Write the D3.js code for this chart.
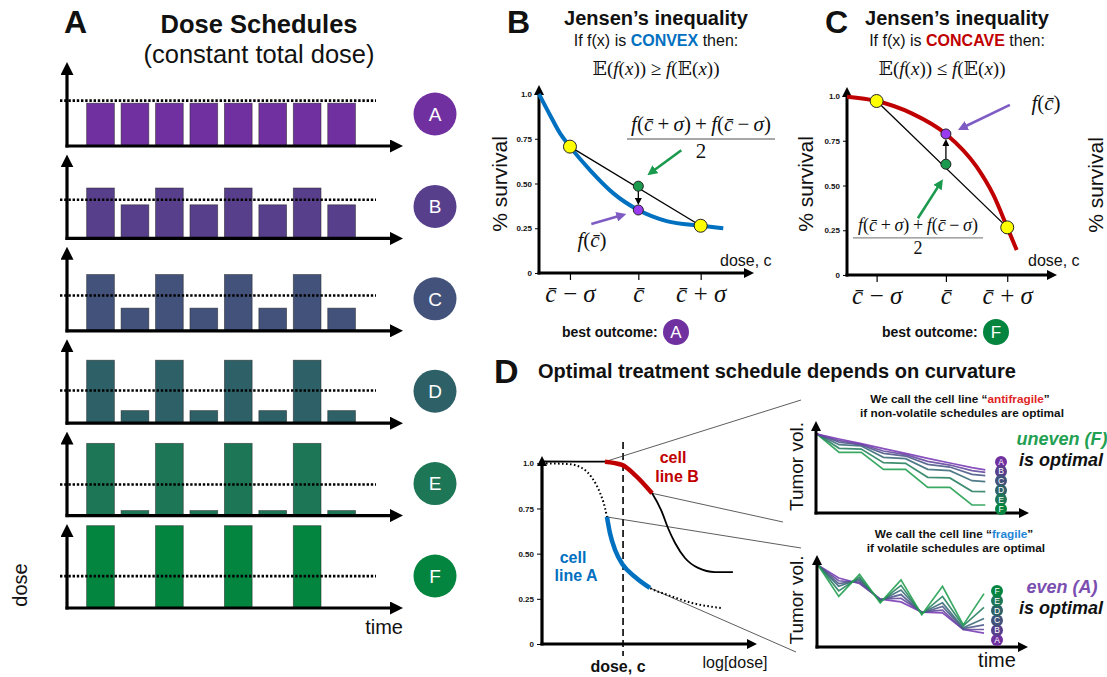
<!DOCTYPE html>
<html>
<head>
<meta charset="utf-8">
<script src="https://cdn.jsdelivr.net/npm/d3@7"></script>
<style>
body { margin: 0; background: #fff; }
text { font-family: "Liberation Sans", Arial, sans-serif; fill: #111; }
</style>
</head>
<body>
<div id="fig"></div>
<script>
// ---------- data ----------
// panel A: eight doses per schedule (relative units, 100 = top of the dose axis)
var schedules = ['A', 'B', 'C', 'D', 'E', 'F']
var scheduleColors = ['#7030a0', '#573f8b', '#42527a', '#2d6067', '#1d7656', '#03843f']
var doseA = [51, 51, 51, 51, 51, 51, 51, 51]
var doseB = [60, 40, 60, 40, 60, 40, 60, 40]
var doseC = [67, 27, 67, 27, 67, 27, 67, 27]
var doseD = [75, 15, 75, 15, 75, 15, 75, 15]
var doseE = [86, 6, 86, 6, 86, 6, 86, 6]
var doseF = [98, 0, 98, 0, 98, 0, 98, 0]
var scheduleDoses = [doseA, doseB, doseC, doseD, doseE, doseF]
var meanDose = [54, 46, 42, 39, 37, 38]

// panel B: convex survival curve
var convexDose = [0, 0.051, 0.098, 0.144, 0.237, 0.346, 0.462, 0.594, 0.752, 0.857]
var convexSurv = [1.0, 0.883, 0.78, 0.706, 0.575, 0.445, 0.352, 0.29, 0.264, 0.25]
var convexTicks = [0.144, 0.462, 0.752]
var convexAtTicks = [0.706, 0.352, 0.264]

// panel C: concave survival curve
var concaveDose = [0, 0.141, 0.308, 0.471, 0.617, 0.697, 0.763, 0.808]
var concaveSurv = [0.996, 0.972, 0.903, 0.788, 0.605, 0.447, 0.266, 0.14]
var concaveTicks = [0.141, 0.471, 0.763]
var concaveAtTicks = [0.972, 0.788, 0.266]

var doseTickLabels = ['c\u0304\u2009\u2212\u2009\u03c3', 'c\u0304', 'c\u0304\u2009+\u2009\u03c3']
var survTicks = [0, 0.25, 0.5, 0.75, 1]
var survTickLabels = ['0', '0.25', '0.50', '0.75', '1.0']

// panel D: dose response of the two cell lines (log dose 0..1)
var logDoseB = [0, 0.293, 0.372, 0.433, 0.512, 0.558, 0.586, 0.619, 0.665, 0.726, 0.805, 0.888]
var survLineB = [1.01, 1.009, 0.991, 0.935, 0.834, 0.73, 0.642, 0.559, 0.476, 0.421, 0.398, 0.398]
var logDoseA = [0, 0.121, 0.186, 0.233, 0.27, 0.293, 0.302, 0.316, 0.34, 0.377, 0.433, 0.502, 0.586, 0.698, 0.837]
var survLineA = [1.0, 0.996, 0.974, 0.919, 0.836, 0.753, 0.703, 0.614, 0.52, 0.437, 0.371, 0.31, 0.271, 0.227, 0.199]
var rangeB = [0.293, 0.512]
var rangeA = [0.302, 0.502]
var doseMark = 0.377

// tumour volume over time, antifragile line (top) and fragile line (bottom)
var timeTop = [0, 1, 2, 3, 4, 5, 6, 7, 7.6]
var volTopA = [0.868, 0.813, 0.762, 0.707, 0.656, 0.601, 0.549, 0.498, 0.473]
var volTopB = [0.868, 0.795, 0.755, 0.681, 0.641, 0.568, 0.527, 0.465, 0.447]
var volTopC = [0.868, 0.777, 0.747, 0.656, 0.626, 0.535, 0.505, 0.425, 0.41]
var volTopD = [0.868, 0.751, 0.736, 0.612, 0.597, 0.48, 0.465, 0.355, 0.344]
var volTopE = [0.868, 0.711, 0.703, 0.553, 0.546, 0.392, 0.385, 0.238, 0.234]
var volTopF = [0.868, 0.667, 0.667, 0.48, 0.48, 0.282, 0.282, 0.088, 0.088]
var timeBottom = [0, 1, 2, 3, 4, 5, 6, 7, 8]
var volBotA = [0.89, 0.75, 0.69, 0.52, 0.49, 0.38, 0.37, 0.19, 0.15]
var volBotB = [0.89, 0.72, 0.7, 0.52, 0.53, 0.38, 0.4, 0.19, 0.19]
var volBotC = [0.89, 0.69, 0.72, 0.51, 0.57, 0.37, 0.44, 0.2, 0.24]
var volBotD = [0.89, 0.66, 0.74, 0.5, 0.62, 0.37, 0.48, 0.21, 0.31]
var volBotE = [0.89, 0.61, 0.76, 0.49, 0.67, 0.36, 0.55, 0.23, 0.43]
var volBotF = [0.89, 0.55, 0.79, 0.48, 0.73, 0.35, 0.66, 0.24, 0.58]
var lineColors = ['#7a3db6', '#654a9e', '#4e5a8a', '#3c6b7a', '#2a8262', '#25a052']

// ---------- drawing ----------
var svg = d3.select('#fig').append('svg').attr('width', 1107).attr('height', 677)
svg.append('rect').attr('width', 1107).attr('height', 677).attr('fill', '#fff')
var defs = svg.append('defs')

function marker(id, color, size) {
    defs.append('marker').attr('id', id)
        .attr('viewBox', '0 0 10 10').attr('refX', 5).attr('refY', 5)
        .attr('markerUnits', 'userSpaceOnUse')
        .attr('markerWidth', size).attr('markerHeight', size)
        .attr('orient', 'auto')
      .append('path').attr('d', 'M0,0 L10,5 L0,10 Z').attr('fill', color)
}
marker('axisArrow', '#000', 10)
marker('axisArrowBig', '#000', 13)
marker('smallArrow', '#000', 7)
marker('greenArrow', '#1b9a4e', 10)
marker('purpleArrow', '#7f5cc4', 10)

// line ending in an arrowhead whose tip sits at (x2, y2)
function arrow(g, x1, y1, x2, y2, width, color, id, size) {
    var len = Math.hypot(x2 - x1, y2 - y1)
    var ux = (x2 - x1) / len, uy = (y2 - y1) / len
    g.append('line')
        .attr('x1', x1).attr('y1', y1)
        .attr('x2', x2 - ux * size / 2).attr('y2', y2 - uy * size / 2)
        .attr('stroke', color).attr('stroke-width', width)
        .attr('marker-end', 'url(#' + id + ')')
}

function label(g, x, y, txt, size, opts) {
    opts = opts || {}
    var t = g.append('text').attr('x', x).attr('y', y)
        .attr('font-size', size + 'px')
        .attr('text-anchor', opts.anchor || 'middle')
        .text(txt)
    if (opts.bold) t.attr('font-weight', 'bold')
    if (opts.italic) t.attr('font-style', 'italic')
    if (opts.color) t.style('fill', opts.color)
    return t
}

// text built from pieces [string, italic]
var serif = '"Liberation Serif", "DejaVu Serif", serif'
function mathText(g, x, y, parts, size) {
    var t = g.append('text').attr('x', x).attr('y', y)
        .attr('font-size', size + 'px').attr('text-anchor', 'middle')
        .style('font-family', serif)
    parts.forEach(function (p) {
        t.append('tspan').attr('font-style', p[1] ? 'italic' : 'normal').text(p[0])
    })
    return t
}

function rotLabel(g, x, y, txt, size) {
    g.append('text').attr('transform', 'translate(' + x + ',' + y + ') rotate(-90)')
        .attr('font-size', size + 'px').attr('text-anchor', 'middle').text(txt)
}

function letterCircle(g, cx, cy, r, color, txt, size) {
    g.append('circle').attr('cx', cx).attr('cy', cy).attr('r', r).attr('fill', color)
    g.append('text').attr('x', cx).attr('y', cy).attr('dy', '0.36em')
        .attr('text-anchor', 'middle').attr('font-size', size + 'px')
        .style('fill', '#fff').text(txt)
}

// ===== Panel A =====
var gA = svg.append('g')
label(gA, 64, 33, 'A', 32, {bold: true, anchor: 'start'})
label(gA, 259, 33, 'Dose Schedules', 25.5, {bold: true})
label(gA, 259, 63, '(constant total dose)', 25.5)

var rowY = d3.scalePoint().domain(schedules).range([146, 608])
var barX = d3.scaleBand().domain(d3.range(8)).range([83.3, 358.8])
    .paddingInner(0.195).paddingOuter(0.097)
var doseY = d3.scaleLinear().domain([0, 100]).range([0, 84])

schedules.forEach(function (s, i) {
    var g = gA.append('g').attr('transform', 'translate(0,' + rowY(s) + ')')
    g.selectAll('rect').data(scheduleDoses[i].map(function (d, j) { return {j: j, d: d} })
            .filter(function (b) { return b.d > 0 }))
        .join('rect')
        .attr('x', function (b) { return barX(b.j) })
        .attr('width', barX.bandwidth())
        .attr('y', function (b) { return -doseY(b.d) })
        .attr('height', function (b) { return doseY(b.d) })
        .attr('fill', scheduleColors[i])
        .attr('stroke', '#222').attr('stroke-opacity', 0.6).attr('stroke-width', 0.8)
    g.append('line')
        .attr('x1', 60).attr('x2', 376)
        .attr('y1', -doseY(meanDose[i])).attr('y2', -doseY(meanDose[i]))
        .attr('stroke', '#000').attr('stroke-width', 2.6).attr('stroke-dasharray', '2.4,1.8')
    arrow(g, 67, 1.5, 67, -doseY(100), 3.2, '#000', 'axisArrowBig', 13)
    arrow(g, 65.5, 0, 403, 0, 3.2, '#000', 'axisArrowBig', 13)
    letterCircle(g, 435, -32, 21.5, scheduleColors[i], s, 19)
})
rotLabel(gA, 27, 585, 'dose', 20)
label(gA, 403, 634, 'time', 20, {anchor: 'end'})

// ===== Panels B and C (Jensen's inequality) =====
function jensenPanel(o) {
    var g = svg.append('g')
    label(g, o.letterX, 33, o.letter, 32, {bold: true, anchor: 'start'})
    label(g, o.titleX, 25, 'Jensen\u2019s inequality', 20, {bold: true})
    var sub = g.append('text').attr('x', o.titleX).attr('y', 46)
        .attr('font-size', '16px').attr('text-anchor', 'middle')
    sub.append('tspan').text('If f(x) is ')
    sub.append('tspan').attr('font-weight', 'bold').style('fill', o.color).text(o.word)
    sub.append('tspan').text(' then:')
    mathText(g, o.mathX, 75, [['\ud835\udd3c(', 0], ['f', 1], ['(', 0], ['x', 1], [')) ' + o.rel + ' ', 0],
        ['f', 1], ['(\ud835\udd3c(', 0], ['x', 1], ['))', 0]], 19)

    var x = d3.scaleLinear().domain([0, 1]).range(o.xRange)
    var y = d3.scaleLinear().domain([0, 1]).range(o.yRange)

    // y ticks
    var ya = g.append('g').attr('transform', 'translate(' + o.xRange[0] + ',0)')
        .call(d3.axisLeft(y).tickValues(survTicks).tickSize(4).tickPadding(3)
            .tickFormat(function (d, i) { return survTickLabels[i] }))
    ya.select('.domain').remove()
    ya.selectAll('text').attr('font-size', '8px').attr('font-weight', 'bold').style('font-family', '"Liberation Sans", Arial, sans-serif')
    // x ticks
    var xa = g.append('g').attr('transform', 'translate(0,' + o.yRange[0] + ')')
        .call(d3.axisBottom(x).tickValues(o.ticks).tickSize(7).tickPadding(4)
            .tickFormat(function (d, i) { return doseTickLabels[i] }))
    xa.select('.domain').remove()
    xa.selectAll('line').attr('stroke-width', 1.2)
    xa.selectAll('text').attr('font-size', '25px').style('font-family', serif).attr('font-style', 'italic')

    arrow(g, o.xRange[0], o.yRange[0] + 1.5, o.xRange[0], o.yRange[1] - 9, 3, '#000', 'axisArrow', 10)
    arrow(g, o.xRange[0] - 1.5, o.yRange[0], o.xRange[1], o.yRange[0], 3, '#000', 'axisArrow', 10)

    var pts = o.dose.map(function (d, i) { return [d, o.surv[i]] })
    g.append('path').datum(pts)
        .attr('fill', 'none').attr('stroke', o.color).attr('stroke-width', 4)
        .attr('d', d3.line().x(function (d) { return x(d[0]) }).y(function (d) { return y(d[1]) })
            .curve(d3.curveMonotoneX))

    var lo = [o.ticks[0], o.atTicks[0]], hi = [o.ticks[2], o.atTicks[2]]
    var mid = [o.ticks[1], (o.atTicks[0] + o.atTicks[2]) / 2]
    var fc = [o.ticks[1], o.atTicks[1]]
    g.append('line').attr('x1', x(lo[0])).attr('y1', y(lo[1])).attr('x2', x(hi[0])).attr('y2', y(hi[1]))
        .attr('stroke', '#000').attr('stroke-width', 1.3)
    var dir = y(fc[1]) > y(mid[1]) ? 1 : -1
    arrow(g, x(mid[0]), y(mid[1]) + dir * 4.5, x(fc[0]), y(fc[1]) - dir * 5, 1.3, '#000', 'smallArrow', 7)

    g.selectAll('circle.yellow').data([lo, hi]).join('circle').attr('class', 'yellow')
        .attr('cx', function (d) { return x(d[0]) }).attr('cy', function (d) { return y(d[1]) })
        .attr('r', 6.5).attr('fill', '#ffff00').attr('stroke', '#222').attr('stroke-width', 1)
    g.append('circle').attr('cx', x(mid[0])).attr('cy', y(mid[1])).attr('r', 5)
        .attr('fill', '#1a9a4c').attr('stroke', '#222').attr('stroke-width', 1)
    g.append('circle').attr('cx', x(fc[0])).attr('cy', y(fc[1])).attr('r', 5)
        .attr('fill', '#9b3bf0').attr('stroke', '#222').attr('stroke-width', 1)

    // annotation arrows
    var gx = x(mid[0]), gy = y(mid[1]), px = x(fc[0]), py = y(fc[1])
    arrow(g, gx + o.gArrow[0], gy + o.gArrow[1], gx + o.gArrow[2], gy + o.gArrow[3], 2.6, '#1b9a4e', 'greenArrow', 10)
    arrow(g, px + o.pArrow[0], py + o.pArrow[1], px + o.pArrow[2], py + o.pArrow[3], 2.6, '#7f5cc4', 'purpleArrow', 10)

    // fraction
    var f = o.frac
    mathText(g, f.x, f.y, [['f', 1], ['(', 0], ['c\u0304', 1], ['\u2009+\u2009', 0], ['\u03c3', 1], [')\u2009+\u2009', 0],
        ['f', 1], ['(', 0], ['c\u0304', 1], ['\u2009\u2212\u2009', 0], ['\u03c3', 1], [')', 0]], f.size)
    g.append('line').attr('x1', f.x - f.w / 2).attr('x2', f.x + f.w / 2)
        .attr('y1', f.y + f.size * 0.38).attr('y2', f.y + f.size * 0.38)
        .attr('stroke', '#8a8a8a').attr('stroke-width', 1.3)
    mathText(g, f.x, f.y + f.size * 1.3, [['2', 0]], f.size)
    mathText(g, o.fcLabel[0], o.fcLabel[1], [['f', 1], ['(', 0], ['c\u0304', 1], [')', 0]], 21)

    rotLabel(g, o.survX, 184, '% survival', 21)
    label(g, o.doseLabX, 266, 'dose, c', 16, {anchor: 'start'})
    label(g, o.bestX, 337, 'best outcome:', 14, {bold: true, anchor: 'start'})
    letterCircle(g, o.bestX + 114, 332, 13, o.bestColor, o.best, 17)
    return g
}

jensenPanel({
    letter: 'B', letterX: 507, titleX: 656, mathX: 656, word: 'CONVEX', rel: '\u2265', color: '#0070c0',
    xRange: [539, 754], yRange: [273, 94],
    dose: convexDose, surv: convexSurv, ticks: convexTicks, atTicks: convexAtTicks,
    gArrow: [43, -36, 9, -11], pArrow: [-47, 14, -12, 4],
    frac: {x: 701, y: 131, size: 21, w: 148},
    fcLabel: [592, 247], survX: 507, doseLabX: 720, bestX: 562, best: 'A', bestColor: '#7030a0'
})
var gC = jensenPanel({
    letter: 'C', letterX: 825, titleX: 957, mathX: 942, word: 'CONCAVE', rel: '\u2264', color: '#c00000',
    xRange: [847, 1057], yRange: [275, 96],
    dose: concaveDose, surv: concaveSurv, ticks: concaveTicks, atTicks: concaveAtTicks,
    gArrow: [-28, 54, -3, 15], pArrow: [64, -29, 12, -4],
    frac: {x: 918, y: 231, size: 18, w: 130},
    fcLabel: [1046, 110], survX: 813, doseLabX: 1028, bestX: 882, best: 'F', bestColor: '#03843f'
})
rotLabel(gC, 1103, 185, '% survival', 21)

// ===== Panel D =====
var gD = svg.append('g')
label(gD, 494, 383, 'D', 34, {bold: true, anchor: 'start'})
label(gD, 538, 378, 'Optimal treatment schedule depends on curvature', 20, {bold: true, anchor: 'start'})

var xD = d3.scaleLinear().domain([0, 1]).range([542, 757])
var yD = d3.scaleLinear().domain([0, 1]).range([644, 463.3])
var yaD = gD.append('g').attr('transform', 'translate(542,0)')
    .call(d3.axisLeft(yD).tickValues(survTicks).tickSize(5).tickPadding(3)
        .tickFormat(function (d, i) { return survTickLabels[i] }))
yaD.select('.domain').remove()
yaD.selectAll('text').attr('font-size', '8px').attr('font-weight', 'bold').style('font-family', '"Liberation Sans", Arial, sans-serif')
arrow(gD, 542, 645.5, 542, 456, 3.2, '#000', 'axisArrow', 10)
arrow(gD, 540.5, 644, 757, 644, 3.2, '#000', 'axisArrow', 10)

gD.append('line').attr('x1', xD(doseMark)).attr('x2', xD(doseMark)).attr('y1', 442).attr('y2', 656)
    .attr('stroke', '#000').attr('stroke-width', 1.6).attr('stroke-dasharray', '7,4')
label(gD, 618, 672, 'dose, c', 16, {bold: true})
label(gD, 735, 668, 'log[dose]', 16)

var lineD = d3.line().x(function (d) { return xD(d[0]) }).y(function (d) { return yD(d[1]) })
    .curve(d3.curveMonotoneX)
var ptsB = logDoseB.map(function (d, i) { return [d, survLineB[i]] })
var ptsA = logDoseA.map(function (d, i) { return [d, survLineA[i]] })
function inRange(r) { return function (d) { return d[0] >= r[0] - 1e-9 && d[0] <= r[1] + 1e-9 } }

// zoom guide lines to the right-hand panels
var guideFrom = [[rangeB[0], survLineB[1]], [rangeB[1], survLineB[4]], [rangeA[0], survLineA[6]], [rangeA[1], survLineA[11]]]
var guideTo = [[801, 400], [783, 522], [801, 548], [796, 652]]
guideFrom.forEach(function (p, i) {
    gD.append('line').attr('x1', xD(p[0])).attr('y1', yD(p[1]))
        .attr('x2', guideTo[i][0]).attr('y2', guideTo[i][1])
        .attr('stroke', '#333').attr('stroke-width', 0.8)
})

gD.append('path').datum(ptsA).attr('fill', 'none').attr('stroke', '#000')
    .attr('stroke-width', 2).attr('stroke-dasharray', '1.6,2.4').attr('d', lineD)
gD.append('path').datum(ptsB).attr('fill', 'none').attr('stroke', '#000')
    .attr('stroke-width', 1.8).attr('d', lineD)
gD.append('path').datum(ptsB.filter(inRange(rangeB))).attr('fill', 'none').attr('stroke', '#c00000')
    .attr('stroke-width', 4.5).attr('d', lineD)
gD.append('path').datum(ptsA.filter(inRange(rangeA))).attr('fill', 'none').attr('stroke', '#0070c0')
    .attr('stroke-width', 4.5).attr('d', lineD)

label(gD, 673, 463, 'cell', 16, {bold: true, color: '#c00000'})
label(gD, 677, 482, 'line B', 16, {bold: true, color: '#c00000'})
label(gD, 573, 563, 'cell', 16, {bold: true, color: '#0070c0'})
label(gD, 576, 581, 'line A', 16, {bold: true, color: '#0070c0'})

// ----- tumour volume panels -----
function volumePanel(o) {
    var g = svg.append('g')
    var t1 = g.append('text').attr('x', o.textX).attr('y', o.textY)
        .attr('font-size', '11.8px').attr('font-weight', 'bold').attr('text-anchor', 'middle')
    t1.append('tspan').text('We call the cell line \u201c')
    t1.append('tspan').style('fill', o.wordColor).text(o.word)
    t1.append('tspan').text('\u201d')
    label(g, o.textX + 2, o.textY + 14, o.line2, 11.8, {bold: true})
    rotLabel(g, 803, (o.yRange[0] + o.yRange[1]) / 2 - 1, 'Tumor vol.', 19)

    var x = d3.scaleLinear().domain(o.xDomain).range(o.xRange)
    var y = d3.scaleLinear().domain([0, 1]).range(o.yRange)
    var lineV = d3.line().x(function (d) { return x(d[0]) }).y(function (d) { return y(d[1]) })
    o.drawOrder.forEach(function (k) {
        g.append('path').datum(o.times.map(function (t, j) { return [t, o.series[k][j]] }))
            .attr('fill', 'none').attr('stroke', lineColors[k]).attr('stroke-width', 1.7)
            .attr('stroke-opacity', 0.9).attr('d', lineV)
    })
    arrow(g, o.xRange[0] - 1, o.yRange[0] + 1.5, o.xRange[0] - 1, o.axisTop, 3, '#000', 'axisArrow', 10)
    arrow(g, o.xRange[0] - 2.5, o.yRange[0], o.axisRight, o.yRange[0], 3, '#000', 'axisArrow', 10)

    schedules.forEach(function (s, k) {
        letterCircle(g, o.tagX, o.tagY(k), 6, scheduleColors[k], s, 8.5)
    })
    label(g, 1062, o.bigY, o.big, 18, {bold: true, italic: true, color: o.bigColor})
    label(g, 1061, o.bigY + 21, 'is optimal', 18, {bold: true, italic: true})
}

volumePanel({
    textX: 960, textY: 403, word: 'antifragile', wordColor: '#e02424',
    line2: 'if non-volatile schedules are optimal',
    xDomain: [0, 7], xRange: [817, 972], yRange: [513, 422], axisTop: 421, axisRight: 1029,
    times: timeTop, series: [volTopA, volTopB, volTopC, volTopD, volTopE, volTopF],
    drawOrder: [5, 4, 3, 2, 1, 0],
    tagX: 1001, tagY: function (k) { return 462 + k * 9.4 },
    big: 'uneven (F)', bigColor: '#22a052', bigY: 445
})
volumePanel({
    textX: 954, textY: 538, word: 'fragile', wordColor: '#1f86d6',
    line2: 'if volatile schedules are optimal',
    xDomain: [0, 8], xRange: [818, 984], yRange: [647, 555], axisTop: 555, axisRight: 1028,
    times: timeBottom, series: [volBotA, volBotB, volBotC, volBotD, volBotE, volBotF],
    drawOrder: [0, 1, 2, 3, 4, 5],
    tagX: 997, tagY: function (k) { return 640 - k * 9.8 },
    big: 'even (A)', bigColor: '#7a4fb0', bigY: 593
})
label(svg, 997, 667, 'time', 20)
</script>
</body>
</html>
